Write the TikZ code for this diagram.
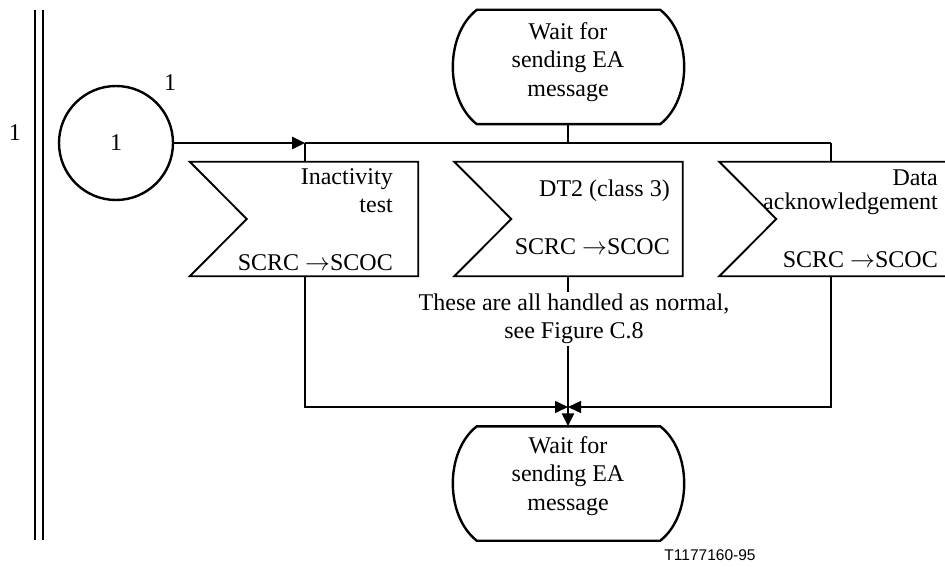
\documentclass[tikz,border=0pt]{standalone}
\usepackage{fontspec}
\setmainfont{Liberation Serif}
\newfontfamily\tagfont{Liberation Sans}
\usetikzlibrary{arrows.meta,calc}
\newcommand\drawstate[1]{%
  \draw[stateline] ($(#1.north west)+(24,0)$) -- ($(#1.north east)+(-23,0)$)
    .. controls ($(#1.north east)+(9,25)$) and ($(#1.south east)+(9,-25)$) .. ($(#1.south east)+(-23,0)$)
    -- ($(#1.south west)+(24,0)$)
    .. controls ($(#1.south west)+(-8,-25)$) and ($(#1.north west)+(-8,25)$) .. cycle;}
\newcommand\drawinput[1]{%
  \draw[boxline] (#1.north west) -- (#1.north east) -- (#1.south east) -- (#1.south west)
    -- ($(#1.west)+(57,0)$) -- cycle;}
\begin{document}
\begin{tikzpicture}[x=1pt,y=-1pt,
  every node/.style={font=\fontsize{24}{28.5}\selectfont, inner sep=0pt},
  thinline/.style={line width=1.5pt},
  thickline/.style={line width=2.8pt},
  stateline/.style={line width=2.4pt},
  boxline/.style={line width=1.9pt},
  tip/.style={-{Triangle[length=13pt,width=12pt]}},
  statebox/.style={minimum width=230pt,minimum height=114pt},
  statetext/.style={align=center},
  inbox/.style={minimum width=228pt,minimum height=114pt},
  lbl/.style={anchor=base east},
  ]
\useasboundingbox (0,0) rectangle (945,567);

% page border (double line)
\draw[line width=2.7pt] (35,10) -- (35,540);
\draw[line width=2.7pt] (43,10) -- (43,540);
\node (lab0) at (15,133) {1};

% connector circle
\node[circle,draw,line width=2.4pt,minimum size=114pt] (c1) at (116,143) {1};
\node (lab1) at (170,83) {1};

% top state
\node[statebox] (s1) at (568,67) {};
\drawstate{s1}
\node[statetext] (s1t) at (568,62) {Wait for\\sending EA\\message};

% input signals
\node[inbox] (i1) at (304,219) {};
\node[inbox] (i2) at (568.5,219) {};
\node[inbox] (i3) at (833.5,219) {};
\drawinput{i1}
\drawinput{i2}
\drawinput{i3}

\node[lbl] (i1a) at (393,184) {Inactivity};
\node[lbl] (i1b) at (393,212) {test};
\node[lbl] (i1c) at (393,270) {SCRC $\rightarrow$SCOC};

\node[lbl] (i2a) at (670,196) {DT2 (class 3)};
\node[lbl] (i2c) at (670,254) {SCRC $\rightarrow$SCOC};

\node[lbl] (i3a) at (938,185) {Data};
\node[lbl] (i3b) at (938,209) {acknowledgement};
\node[lbl] (i3c) at (938,267) {SCRC $\rightarrow$SCOC};

% bus above inputs
\coordinate (bl) at (305,143);
\coordinate (br) at (831,143);
\draw[thickline,tip] (c1.east) -- (bl);
\draw[thinline] (bl) -- (br);
\draw[thinline] (bl) -- (bl |- i1.north);
\draw[thinline] (br) -- (br |- i3.north);
\draw[thickline] (s1.south) -- (s1.south |- bl);

% comment
\node[align=center] (cm) at (574,319) {These are all handled as normal,\\see Figure C.8};

% bottom state
\node[statebox] (s2) at (568,483.5) {};
\drawstate{s2}
\node[statetext] (s2t) at (568,476) {Wait for\\sending EA\\message};

% join
\coordinate (j) at (568,407);
\coordinate (jl) at (305,407);
\coordinate (jr) at (831,407);
\draw[thinline,tip] (bl |- i1.south) -- (jl) -- (j);
\draw[thinline,tip] (br |- i3.south) -- (jr) -- (j);
\draw[thickline] (i2.south -| j) -- ($(cm.north -| j)+(0,-2)$);
\draw[thickline,tip] ($(cm.south -| j)+(0,2)$) -- (s2.north -| j);

% figure tag
\node[font=\tagfont\fontsize{15.5}{18}\selectfont, anchor=base] (tag) at (710,560) {T1177160-95};
\end{tikzpicture}
\end{document}
